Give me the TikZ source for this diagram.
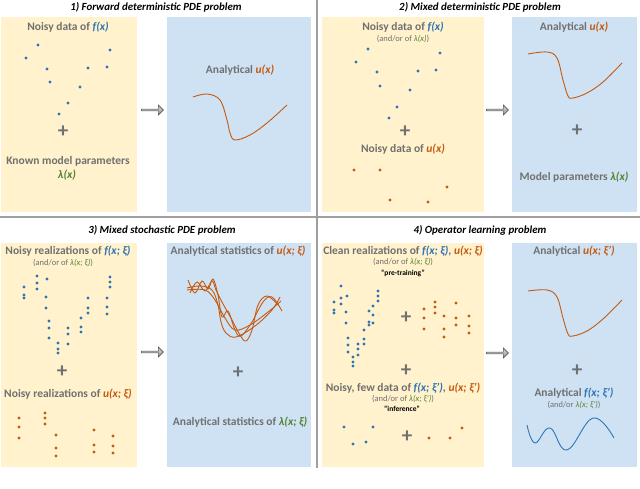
\documentclass[tikz,border=0pt]{standalone}
\usepackage{fontspec}
\setmainfont{Carlito}
\usepackage{tikz}
\usetikzlibrary{shapes.arrows}
\definecolor{boxyellow}{RGB}{255,242,204}
\definecolor{boxblue}{RGB}{207,226,243}
\definecolor{fblue}{RGB}{46,117,182}
\definecolor{uorange}{RGB}{197,90,17}
\definecolor{lgreen}{RGB}{84,130,53}
\definecolor{txtgray}{RGB}{112,112,112}
\newcommand{\fcol}[1]{\textcolor{fblue}{\textit{#1}}}
\newcommand{\ucol}[1]{\textcolor{uorange}{\textit{#1}}}
\newcommand{\lcol}[1]{\textcolor{lgreen}{\textit{#1}}}
\def\plusat(#1,#2)#3{\node[plussign] (#3) at (#1,#2) {+};}

\begin{document}
\begin{tikzpicture}[x=1pt,y=-1pt,
  ybox/.style={fill=boxyellow, draw=none},
  bbox/.style={fill=boxblue, draw=none},
  ttl/.style={font=\bfseries\itshape\fontsize{10.9}{12}\selectfont, inner sep=0pt},
  lbl/.style={font=\bfseries\fontsize{11.5}{13}\selectfont, text=txtgray, inner sep=0pt},
  sub/.style={font=\fontsize{8.5}{10}\selectfont, text=txtgray, inner sep=0pt},
  tag/.style={font=\bfseries\fontsize{7.5}{9}\selectfont, inner sep=0pt},
  plussign/.style={font=\bfseries\fontsize{21}{21}\selectfont, text=txtgray, inner sep=0pt},
  arw/.style={single arrow, draw=gray!70!black, line width=0.6pt, top color=gray!35, bottom color=gray!80,
    minimum height=22pt, minimum width=10pt, single arrow head extend=1.5pt, inner sep=0pt},
  ucurve/.style={uorange, line width=0.9pt},
  fcurve/.style={fblue, line width=0.9pt}]
  %%%%% START %%%%%
  \useasboundingbox (0,0) rectangle (640,489);

  % dividers
  \draw[gray!75, line width=1.3pt] (317,0) -- (317,468);
  \draw[gray!75, line width=1.1pt] (0,217) -- (640,217);

  % boxes
  \fill[ybox] (1,17) rectangle (137,212);
  \fill[bbox] (167,17) rectangle (311,212);
  \fill[ybox] (322,17) rectangle (484,212);
  \fill[bbox] (512,17) rectangle (637,212);
  \fill[ybox] (1,243) rectangle (137,467);
  \fill[bbox] (167,243) rectangle (311,467);
  \fill[ybox] (322,243) rectangle (484,467);
  \fill[bbox] (512,243) rectangle (637,467);

  % titles
  \node[ttl] (title1) at (156,7) {1) Forward deterministic PDE problem};
  \node[ttl] (title2) at (480,7) {2) Mixed deterministic PDE problem};
  \node[ttl] (title3) at (162,230) {3) Mixed stochastic PDE problem};
  \node[ttl] (title4) at (480,230) {4) Operator learning problem};

  % arrows
  \node[arw] (arr1) at (152,110) {};
  \node[arw] (arr2) at (497,110) {};
  \node[arw] (arr3) at (152,352) {};
  \node[arw] (arr4) at (497,353) {};

  %%% panel 1
  \node[lbl] (p1data) at (68,27) {Noisy data of \fcol{f(x)}};
  \foreach \p in {(38,45),(26,58),(47,69),(50,82),(68,103),(59,114),(80,87),(88,68),(107,67),(110,50)}
    \fill[fblue] \p circle (1.7pt);
  \plusat(63,132){p1plus}
  \node[lbl] (p1known) at (68,161) {Known model parameters};
  \node[lbl] (p1lam) at (67,175) {\lcol{λ(x)}};
  \node[lbl] (p1ana) at (240,70) {Analytical \ucol{u(x)}};
  \draw[ucurve] plot[smooth, tension=0.6] coordinates {(193,97) (207,94) (220,100) (227,120) (230,133) (235,140) (250,135) (267,123) (287,105)};

  %%% panel 2
  \node[lbl] (p2data) at (403,27) {Noisy data of \fcol{f(x)}};
  \node[sub] (p2or) at (403,39) {(and/or of \lcol{λ(x)})};
  \foreach \p in {(368,49),(356,62),(377,72),(380,86),(397,107),(389,118),(410,90),(418,71),(436,70),(440,53)}
    \fill[fblue] \p circle (1.7pt);
  \plusat(405,132){p2plus}
  \node[lbl] (p2udata) at (403,149) {Noisy data of \ucol{u(x)}};
  \foreach \p in {(354,170),(380,170),(447,187),(390,200),(428,202)}
    \fill[uorange] \p circle (1.7pt);
  \node[lbl] (p2ana) at (574,27) {Analytical \ucol{u(x)}};
  \draw[ucurve] plot[smooth, tension=0.6] coordinates {(528,54) (547,52) (557,58) (563,80) (568,96) (573,98) (587,93) (603,82) (622,63)};
  \plusat(577,131){p2plusb}
  \node[lbl] (p2par) at (574,177) {Model parameters \lcol{λ(x)}};

  %%% panel 3
  \node[lbl] (p3data) at (68,251) {Noisy realizations of \fcol{f(x; ξ)}};
  \node[sub] (p3or) at (63,263) {(and/or of \lcol{λ(x; ξ)})};
  \foreach \p in {(24,287),(24,295),(24,298),(37,276),(37,283),(37,289),(47,279),(46,297),(46,308),
      (49,321),(49,328),(49,338),(58,343),(58,349),(58,353),(68,328),(68,334),(68,344),
      (81,318),(81,327),(81,332),(88,298),(88,308),(88,313),(107,298),(107,307),(107,314),
      (110,277),(110,282),(110,287)}
    \fill[fblue] \p circle (1.7pt);
  \plusat(62,372){p3plus}
  \node[lbl] (p3udata) at (68,394) {Noisy realizations of \ucol{u(x; ξ)}};
  \foreach \p in {(19,418),(19,427),(19,438),(45,413),(45,418),(45,424),(56,435),(56,448),(56,456),
      (94,430),(94,445),(94,452),(113,436),(113,446),(113,453)}
    \fill[uorange] \p circle (1.7pt);
  \node[lbl] (p3ana) at (238,251) {Analytical statistics of \ucol{u(x; ξ)}};
  \draw[ucurve] plot[smooth, tension=0.6] coordinates {(187,288) (200,286) (212,290) (218,305) (221,322) (226,333) (236,337) (255,326) (272,310) (280,297)};
  \draw[ucurve] plot[smooth, tension=0.6] coordinates {(188,280) (195,293) (202,281) (208,289) (213,279) (218,295) (222,317) (228,311) (235,330) (241,336) (252,322) (263,302) (272,297) (282,311)};
  \draw[ucurve] plot[smooth, tension=0.6] coordinates {(190,293) (197,282) (205,291) (212,281) (216,290) (222,302) (232,320) (240,335) (246,341) (252,330) (258,305) (267,296) (278,305)};
  \draw[ucurve] plot[smooth, tension=0.6] coordinates {(187,290) (205,290) (215,300) (225,318) (235,330) (250,325) (268,312) (281,301)};
  \plusat(238,373){p3plusb}
  \node[lbl] (p3lam) at (240,422) {Analytical statistics of \lcol{λ(x; ξ)}};

  %%% panel 4
  \node[lbl] (p4clean) at (403,251) {Clean realizations of \fcol{f(x; ξ)}, \ucol{u(x; ξ)}};
  \node[sub] (p4or) at (403,262) {(and/or of \lcol{λ(x; ξ)})};
  \node[tag] (p4pre) at (403,273) {“pre-training”};
  \foreach \p in {(334,302),(334,310),(334,313),(341,286),(341,298),(341,304),(347,296),(346,312),(346,323),
      (348,338),(348,345),(348,352),(353,357),(353,362),(353,366),(358,344),(358,349),(358,355),
      (364,330),(364,339),(364,344),(369,311),(369,322),(369,325),(373,306),(373,315),(373,323),
      (378,291),(378,296),(378,301)}
    \fill[fblue] \p circle (1.7pt);
  \plusat(406,318){p4plus}
  \foreach \p in {(424,309),(424,318),(424,329),(435,302),(435,307),(435,313),(444,316),(444,329),(444,337),
      (456,303),(456,318),(456,325),(469,316),(469,326),(469,333)}
    \fill[uorange] \p circle (1.7pt);
  \plusat(406,371){p4plusb}
  \node[lbl] (p4noisy) at (403,388) {Noisy, few data of \fcol{f(x; ξ')}, \ucol{u(x; ξ')}};
  \node[sub] (p4or2) at (403,399) {(and/or of \lcol{λ(x; ξ')})};
  \node[tag] (p4inf) at (402,409) {“inference”};
  \foreach \p in {(344,427),(353,444),(366,442),(373,427)}
    \fill[fblue] \p circle (1.7pt);
  \plusat(407,437){p4plusc}
  \foreach \p in {(429,438),(450,438),(462,428)}
    \fill[uorange] \p circle (1.7pt);
  \node[lbl] (p4ana) at (574,251) {Analytical \ucol{u(x; ξ')}};
  \draw[ucurve] plot[smooth, tension=0.6] coordinates {(528,291) (547,290) (557,297) (563,318) (568,334) (573,336) (587,331) (603,319) (622,300)};
  \plusat(577,371){p4plusd}
  \node[lbl] (p4fana) at (574,393) {Analytical \fcol{f(x; ξ')}};
  \node[sub] (p4or3) at (574,405) {(and/or \lcol{λ(x; ξ')})};
  \draw[fcurve] plot[smooth, tension=0.7] coordinates {(527,425) (535,443) (550,428) (567,450) (593,418) (614,438)};

  %%%%% END %%%%%
\end{tikzpicture}
\end{document}
